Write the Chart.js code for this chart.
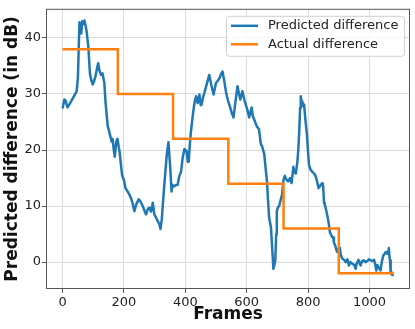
<!DOCTYPE html>
<html>
<head>
<meta charset="utf-8">
<script src="https://cdn.jsdelivr.net/npm/chart.js@4"></script>
<style>
  body { margin: 0; background: #fff; }
  #wrap { width: 415px; height: 329px; }
</style>
</head>
<body>
<div id="wrap"><canvas id="myChart" width="415" height="329"></canvas></div>
<script>
let frames = [0, 6, 10, 16, 25, 35, 46, 50, 55, 58, 61, 64, 68, 71, 75, 78, 84, 89, 93, 98,
  102, 107, 112, 116, 120, 125, 130, 136, 140, 147, 151, 155, 160, 163, 167, 170, 175, 179, 183, 186,
  190, 194, 200, 205, 212, 218, 223, 228, 234, 240, 248, 254, 261, 266, 272, 278, 283, 288, 294, 299,
  305, 310, 315, 319, 323, 326, 331, 335, 340, 345, 348, 351, 355, 358, 362, 368, 375, 380, 386, 391,
  397, 401, 404, 408, 411, 414, 418, 425, 430, 435, 440, 446, 450, 453, 458, 462, 470, 478, 485, 492,
  500, 505, 511, 516, 521, 527, 532, 538, 546, 552, 557, 563, 570, 575, 579, 586, 592, 597, 603, 608,
  616, 620, 624, 632, 640, 646, 651, 657, 662, 666, 670, 673, 679, 684, 687, 690, 693, 696, 698, 702,
  706, 711, 715, 720, 724, 727, 731, 735, 741, 746, 749, 752, 756, 760, 765, 768, 771, 774, 776, 779,
  781, 784, 787, 791, 796, 800, 803, 808, 814, 820, 825, 830, 834, 838, 841, 847, 849, 852, 854, 858,
  863, 867, 871, 874, 878, 882, 884, 888, 892, 895, 899, 903, 907, 912, 917, 923, 928, 933, 938, 944,
  950, 955, 958, 964, 968, 971, 976, 982, 987, 993, 998, 1004, 1010, 1015, 1019, 1022, 1026, 1029, 1033, 1036,
  1040, 1045, 1050, 1053, 1058, 1061, 1063, 1065, 1067, 1069, 1072, 1074, 1079];
let predicted = [27.4, 29.0, 28.8, 27.6, 28.4, 29.4, 30.5, 33.0, 42.8, 41.5, 40.8, 43.0, 42.5, 43.1, 42.2, 41.3, 38.4, 33.7, 32.6, 31.7,
  32.2, 33.1, 34.5, 35.5, 34.2, 33.4, 33.7, 32.0, 28.5, 24.3, 23.5, 22.6, 21.5, 22.0, 20.0, 18.8, 21.5, 22.0, 20.5, 19.6,
  17.5, 15.5, 14.6, 13.2, 12.6, 12.0, 11.4, 10.5, 9.1, 10.3, 11.2, 10.8, 10.0, 9.3, 8.5, 9.5, 9.7, 9.0, 10.6, 8.5,
  7.9, 7.3, 6.8, 5.9, 7.5, 9.7, 13.5, 16.1, 19.5, 21.4, 19.0, 16.7, 12.6, 13.8, 13.5, 13.7, 13.8, 15.3, 16.1, 18.5,
  20.2, 19.8, 19.9, 17.9, 17.9, 20.5, 23.2, 26.5, 28.5, 29.6, 28.4, 29.9, 28.0, 28.1, 29.5, 30.2, 31.8, 33.4, 31.5, 29.9,
  32.0, 32.3, 32.8, 33.5, 34.0, 32.3, 30.5, 29.0, 27.6, 26.5, 25.8, 28.5, 31.4, 30.0, 29.0, 30.5, 29.0, 28.1, 27.0, 25.8,
  27.6, 26.0, 25.5, 24.3, 23.7, 21.1, 20.5, 19.3, 16.5, 14.4, 10.5, 7.9, 6.2, 1.5, -1.2, -0.5, 0.3, 5.0, 9.1, 9.8,
  10.0, 11.2, 12.0, 14.7, 15.4, 15.0, 14.6, 14.4, 15.0, 14.1, 15.5, 17.0, 16.0, 15.8, 17.9, 20.0, 23.2, 27.5, 29.6, 28.5,
  28.7, 27.8, 28.1, 25.5, 22.9, 19.5, 17.3, 16.5, 16.1, 15.8, 15.3, 14.2, 13.2, 13.5, 13.8, 14.1, 13.5, 10.6, 10.3, 9.5,
  8.2, 7.0, 5.3, 5.0, 4.5, 4.4, 3.5, 3.0, 2.2, 1.8, 2.4, 2.6, 1.2, 0.6, 0.4, 0.0, 0.5, -0.6, 0.0, -0.3,
  -0.5, -1.2, -0.3, 0.4, -0.2, -0.6, 0.2, 0.3, 0.0, 0.2, 0.5, 0.3, 0.2, 0.4, -0.5, -1.5, -0.5, -0.9, -1.2, -1.5,
  0.0, 1.2, 1.5, 1.8, 1.5, 2.0, 2.5, 1.0, 0.3, -2.0, -1.8, -2.3, -2.2];

// het werkelijke verschil, per blok van 180 frames
let stepFrames = [0, 180, 360, 540, 720, 900, 1079];
let actual = [38, 30, 22, 14, 6, -2, -2];

// tick labels van de assen
let xTicks = [0, 200, 400, 600, 800, 1000];
let yTicks = [0, 10, 20, 30, 40];

let seriesNames = ['Predicted difference', 'Actual difference'];
let seriesColors = ['#1f77b4', '#ff7f0e'];

Chart.defaults.font.family = "'DejaVu Sans', sans-serif";
Chart.defaults.color = '#222';

// kader rond de plot en de legenda rechtsboven
const frameAndLegend = {
  id: 'frameAndLegend',
  afterDraw(chart) {
    const ctx = chart.ctx;
    const a = chart.chartArea;
    ctx.save();
    ctx.strokeStyle = '#555';
    ctx.lineWidth = 1;
    ctx.strokeRect(a.left + 0.5, a.top + 0.5, a.right - a.left - 1, a.bottom - a.top - 1);

    // legenda
    const bx = a.right - 184, by = a.top + 7, bw = 178, bh = 40;
    ctx.beginPath();
    ctx.roundRect(bx + 0.5, by + 0.5, bw, bh, 3);
    ctx.fillStyle = 'rgba(255,255,255,0.8)';
    ctx.fill();
    ctx.strokeStyle = '#d0d0d0';
    ctx.stroke();
    ctx.font = "13px 'DejaVu Sans'";
    ctx.textBaseline = 'middle';
    chart.data.datasets.forEach((ds, i) => {
      const y = by + 10 + i * 18.5;
      ctx.beginPath();
      ctx.moveTo(bx + 5, y);
      ctx.lineTo(bx + 32, y);
      ctx.strokeStyle = ds.borderColor;
      ctx.lineWidth = 2.5;
      ctx.stroke();
      ctx.fillStyle = '#222';
      ctx.fillText(ds.label, bx + 42, y);
    });
    ctx.restore();
  }
};

let myChart = document.getElementById('myChart').getContext('2d');

let chart = new Chart(myChart, {
  type: 'line',
  data: {
    datasets: [{
      label: seriesNames[0],
      data: frames.map((f, i) => ({ x: f, y: predicted[i] })),
      borderColor: seriesColors[0],
      borderWidth: 2.5,
      pointRadius: 0,
      tension: 0,
      borderJoinStyle: 'round',
      order: 1
    }, {
      label: seriesNames[1],
      data: stepFrames.map((f, i) => ({ x: f, y: actual[i] })),
      borderColor: seriesColors[1],
      borderWidth: 2.5,
      pointRadius: 0,
      // eerst horizontaal, dan verticaal (zoals matplotlib 'post')
      stepped: 'before',
      order: 0
    }]
  },
  options: {
    responsive: false,
    animation: false,
    devicePixelRatio: 1,
    layout: { padding: { top: 5, right: 5, left: 0, bottom: 0 } },
    plugins: {
      legend: { display: false },
      tooltip: { enabled: false }
    },
    scales: {
      x: {
        type: 'linear',
        min: -54,
        max: 1132,
        afterBuildTicks: s => { s.ticks = xTicks.map(v => ({ value: v })); },
        afterFit: s => { s.height = 40; },
        ticks: { font: { size: 13 }, color: '#222', padding: 2, maxRotation: 0, callback: v => String(v) },
        grid: { color: '#dcdcdc', tickColor: '#555', tickLength: 4 },
        border: { display: false },
        title: { display: true, text: 'Frames', font: { size: 17, weight: 'bold' }, color: '#111', padding: { top: 0, bottom: 4 } }
      },
      y: {
        min: -4.8,
        max: 45.2,
        afterBuildTicks: s => { s.ticks = yTicks.map(v => ({ value: v })); },
        afterFit: s => { s.width = 46; },
        ticks: { font: { size: 13 }, color: '#222', padding: 1, callback: v => String(v) },
        grid: { color: '#dcdcdc', tickColor: '#555', tickLength: 4 },
        border: { display: false },
        title: { display: true, text: 'Predicted difference (in dB)', font: { size: 17, weight: 'bold' }, color: '#111', padding: { top: 2, bottom: 0 } }
      }
    }
  },
  plugins: [frameAndLegend]
});
</script>
</body>
</html>
